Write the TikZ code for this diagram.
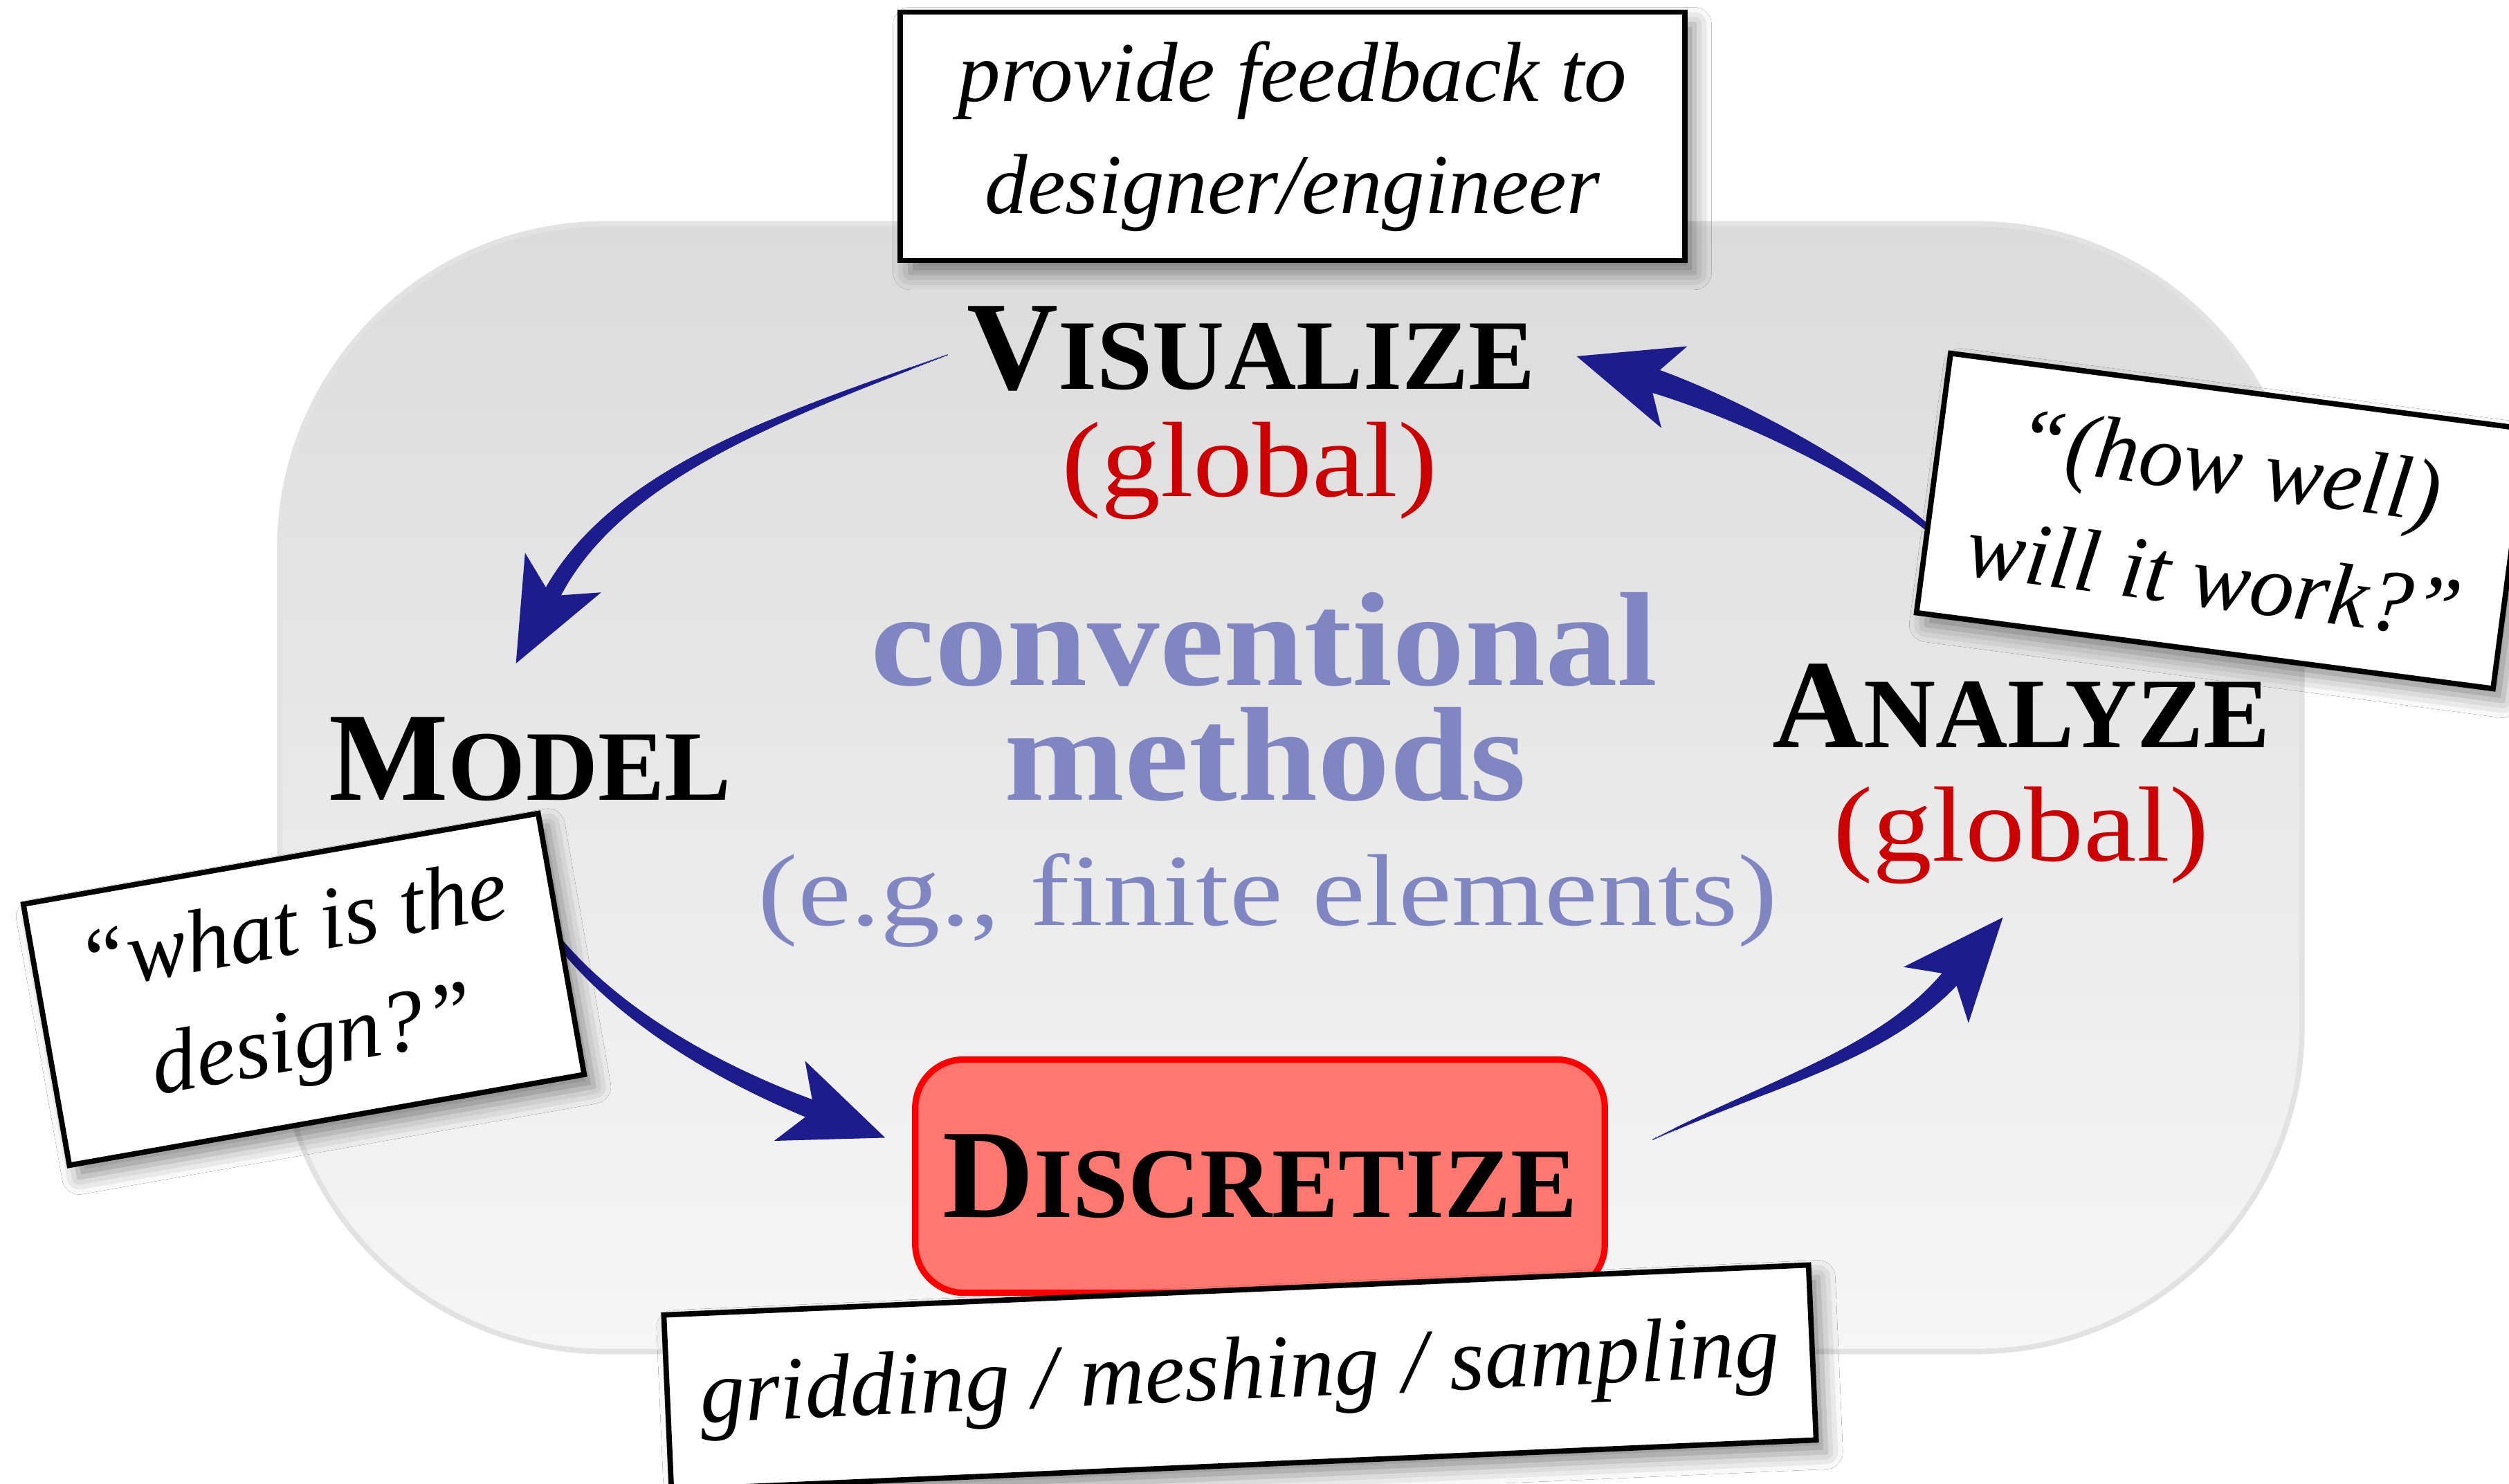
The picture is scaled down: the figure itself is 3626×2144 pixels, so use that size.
\documentclass[tikz,border=0pt]{standalone}
\usepackage{fontspec}
\setmainfont{Liberation Serif}
\newfontfamily\convfont{Liberation Serif}[FakeStretch=1.08]
\newfontfamily\convsubfont{Liberation Serif}[FakeStretch=1.17]
\newfontfamily\globfont{Liberation Serif}[FakeStretch=1.11]
\usetikzlibrary{decorations.markings,shadows.blur}
\definecolor{arrowblue}{RGB}{28,28,140}
\definecolor{convblue}{RGB}{127,134,194}
\definecolor{globred}{RGB}{204,0,0}
\definecolor{discfill}{RGB}{255,120,112}
\definecolor{bgtop}{RGB}{219,219,219}
\definecolor{bgbot}{RGB}{246,246,246}
\definecolor{bgedge}{RGB}{226,226,226}
\newcommand\bigsc[2]{{\fontsize{52}{60}\selectfont #1}{\fontsize{41}{48}\selectfont #2}}
\tikzset{
  lbl/.style={anchor=base, inner sep=0pt},
  stagename/.style={lbl, font=\bfseries},
  glob/.style={lbl, text=globred, font=\globfont\fontsize{44}{50}\selectfont},
  conv/.style={lbl, text=convblue, font=\convfont\bfseries\fontsize{55}{60}\selectfont},
  convsub/.style={lbl, text=convblue, font=\convsubfont\fontsize{42}{48}\selectfont},
  note/.style={draw, line width=2.2pt, fill=white, inner sep=0pt, align=center,
    font=\itshape\fontsize{35}{46}\selectfont,
    blur shadow={shadow xshift=4pt, shadow yshift=-5pt, shadow blur radius=7pt, shadow opacity=45}},
  bignote/.style={note, font=\itshape\fontsize{36.5}{47}\selectfont},
  bgbox/.style={draw=bgedge, line width=2.2pt, top color=bgtop, bottom color=bgbot,
    rounded corners=4.7cm, inner sep=0pt},
  discbox/.style={draw=red, fill=discfill, line width=2.6pt, rounded corners=0.7cm, inner sep=0pt,
    font=\bfseries},
  taper/.style 2 args={
    postaction={decorate, decoration={markings,
      mark=between positions 0 and 1 step 0.6pt with {
        \pgfmathsetmacro\myr{#1+(#2-#1)*\pgfkeysvalueof{/pgf/decoration/mark info/distance from start}/\pgfdecoratedpathlength}
        \fill[arrowblue] (0,0) circle[radius=\myr pt];}}},
    postaction={decorate, decoration={markings,
      mark=at position 0.999 with {\fill[arrowblue] (110,0) -- (-38,62) -- (0,0) -- (-38,-62) -- cycle;}}}
  }
}
\begin{document}
\begin{tikzpicture}[x=0.01cm,y=-0.01cm]
\useasboundingbox (0,0) rectangle (3626,2144);
\fill[white] (0,0) rectangle (3626,2144);
% background
\node[bgbox, minimum width=29.21cm, minimum height=16.29cm] (bg) at (1865.5,1138.5) {};
% arrow coordinates
\coordinate (a1s) at (1369,513);
\coordinate (a1p) at (1134,600);
\coordinate (a1q) at (888,684);
\coordinate (a1e) at (796,862);
\coordinate (a2s) at (795,1345);
\coordinate (a2p) at (885,1465);
\coordinate (a2q) at (1037,1551);
\coordinate (a2e) at (1177,1605);
\coordinate (a3s) at (2389,1647);
\coordinate (a3p) at (2569,1561);
\coordinate (a3q) at (2725,1523);
\coordinate (a3e) at (2823,1409);
\coordinate (a4s) at (2800,775);
\coordinate (a4p) at (2688,676);
\coordinate (a4q) at (2497,584);
\coordinate (a4e) at (2383,548);
\path[taper={0.3}{3.6}] (a1s) .. controls (a1p) and (a1q) .. (a1e);
\path[taper={1.5}{3.9}] (a2s) .. controls (a2p) and (a2q) .. (a2e);
\path[taper={0.3}{4.0}] (a3s) .. controls (a3p) and (a3q) .. (a3e);
\path[taper={1.2}{5.0}] (a4s) .. controls (a4p) and (a4q) .. (a4e);
% stage labels
\node[stagename] (vis) at (1808,562) {\bigsc{V}{ISUALIZE}};
\node[glob] (visg) at (1806,717) {(global)};
\node[stagename] (mod) at (766,1156) {\bigsc{M}{ODEL}};
\node[stagename] (ana) at (2921,1080) {\bigsc{A}{NALYZE}};
\node[glob] (anag) at (2921,1244) {(global)};
% centre text
\node[conv] (conv1) at (1827,990) {conventional};
\node[conv] (conv2) at (1829,1156) {methods};
\node[convsub] (conv3) at (1832,1337) {(e.g., finite elements)};
% discretize
\node[discbox, minimum width=9.96cm, minimum height=3.37cm] (disc) at (1821,1700) {\bigsc{D}{ISCRETIZE}};
% notes
\node[note, minimum width=11.33cm, minimum height=3.59cm] (fb) at (1868,197) {provide feedback to\\designer/engineer};
\node[bignote, minimum width=7.55cm, minimum height=3.83cm, rotate=10] (wd) at (439,1430) {“what is the\\design?”};
\node[bignote, minimum width=8.4cm, minimum height=3.78cm, rotate=-7.5] (hw) at (3211,753) {“(how well)\\will it work?”};
\node[note, font=\itshape\fontsize{37}{46}\selectfont, minimum width=16.55cm, minimum height=2.53cm, rotate=2.5] (gm) at (1792,1991) {gridding / meshing / sampling};
\end{tikzpicture}
\end{document}
